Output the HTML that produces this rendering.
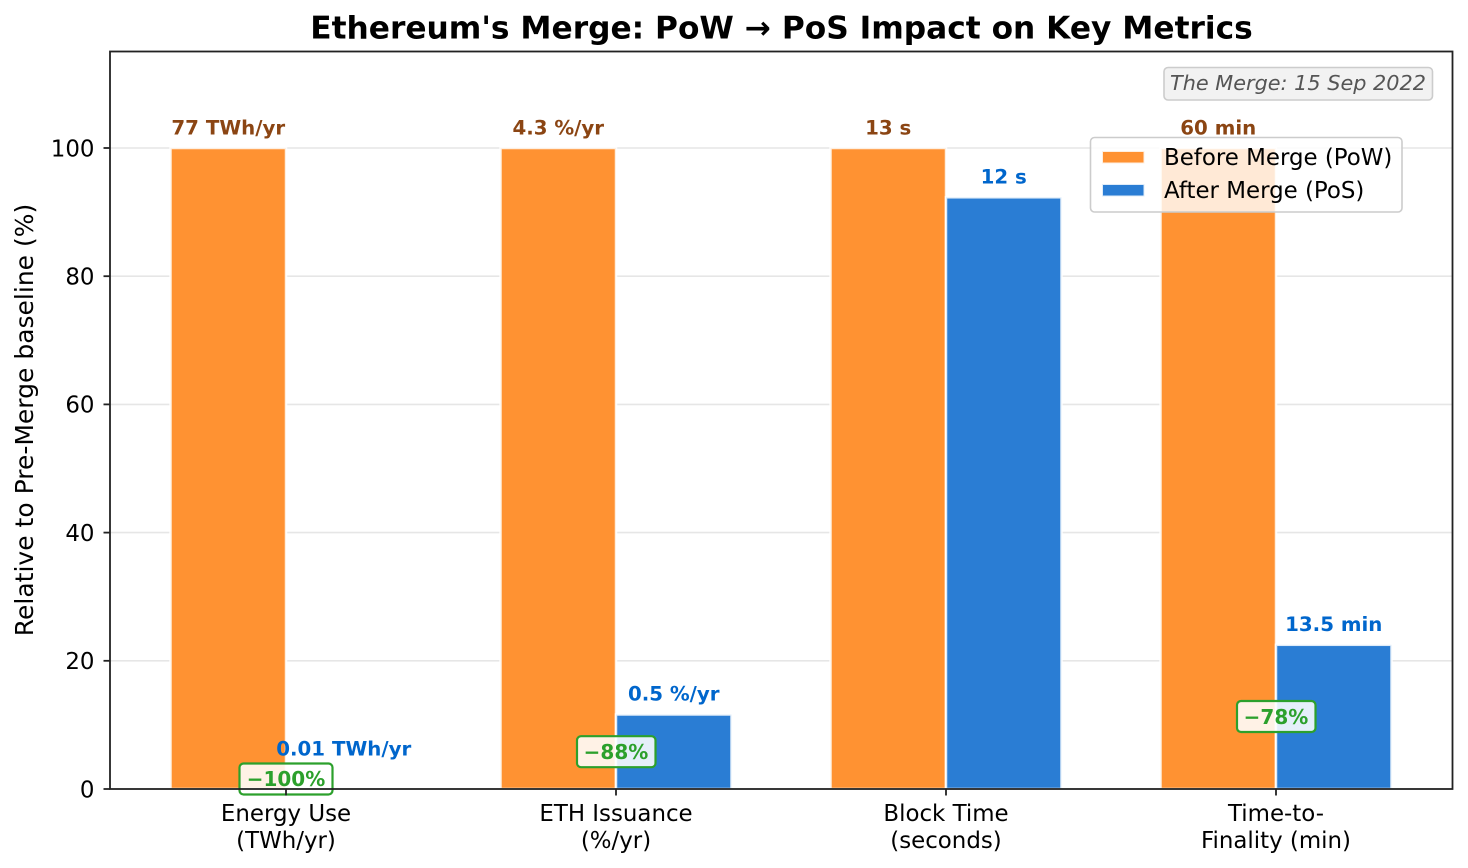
<!DOCTYPE html>
<html><head><meta charset="utf-8"><style>
html,body{margin:0;padding:0;background:#fff;}
svg{display:block;}
text{font-family:"DejaVu Sans","Liberation Sans",sans-serif;}
</style></head><body>
<svg width="1468" height="868" viewBox="0 0 1468 868" xmlns="http://www.w3.org/2000/svg">
<rect x="0" y="0" width="1468" height="868" fill="#fff"/>
<!-- grid -->
<g stroke="#e6e6e6" stroke-width="1.6">
<line x1="110" y1="660.8" x2="1452" y2="660.8"/>
<line x1="110" y1="532.6" x2="1452" y2="532.6"/>
<line x1="110" y1="404.4" x2="1452" y2="404.4"/>
<line x1="110" y1="276.2" x2="1452" y2="276.2"/>
<line x1="110" y1="148" x2="1452" y2="148"/>
</g>
<!-- bars -->
<g stroke="#fff" stroke-opacity="0.85" stroke-width="2.5">
<rect x="170.5" y="148" width="115.5" height="641" fill="#ff9232"/>
<rect x="500.5" y="148" width="115.5" height="641" fill="#ff9232"/>
<rect x="830.5" y="148" width="115.5" height="641" fill="#ff9232"/>
<rect x="1160.5" y="148" width="115.5" height="641" fill="#ff9232"/>
<rect x="616" y="714.5" width="115.5" height="74.5" fill="#2a7dd4"/>
<rect x="946" y="197.3" width="115.5" height="591.7" fill="#2a7dd4"/>
<rect x="1276" y="644.8" width="115.5" height="144.2" fill="#2a7dd4"/>
</g>
<!-- value labels -->
<g font-size="19.8" font-weight="bold" text-anchor="middle">
<text x="228.25" y="134.5" fill="#8b4513">77 TWh/yr</text>
<text x="558.25" y="134.5" fill="#8b4513">4.3 %/yr</text>
<text x="888.25" y="134.5" fill="#8b4513">13 s</text>
<text x="1218.25" y="134.5" fill="#8b4513">60 min</text>
<text x="343.75" y="755.5" fill="#0066cc">0.01 TWh/yr</text>
<text x="673.75" y="700.6" fill="#0066cc">0.5 %/yr</text>
<text x="1003.75" y="183.3" fill="#0066cc">12 s</text>
<text x="1333.75" y="631" fill="#0066cc">13.5 min</text>
</g>
<!-- green reduction boxes -->
<g stroke="#2ca02c" stroke-width="2.2" fill="#fff" fill-opacity="0.88">
<rect x="239.5" y="763.5" width="93" height="31" rx="4"/>
<rect x="577" y="736.2" width="78.5" height="31" rx="4"/>
<rect x="1237" y="701" width="78.5" height="31" rx="4"/>
</g>
<g font-size="20" font-weight="bold" text-anchor="middle" fill="#2ca02c">
<text x="286" y="786">−100%</text>
<text x="616" y="759">−88%</text>
<text x="1276" y="724">−78%</text>
</g>
<!-- annotation -->
<rect x="1164" y="67.5" width="268.5" height="32.5" rx="4" fill="#f2f2f2" stroke="#cccccc" stroke-width="1.6"/>
<text x="1298" y="90" font-size="20.8" font-style="italic" fill="#555555" text-anchor="middle">The Merge: 15 Sep 2022</text>
<!-- legend -->
<rect x="1090.5" y="137.5" width="311.5" height="74.5" rx="4" fill="#fff" fill-opacity="0.8" stroke="#cccccc" stroke-width="1.6"/>
<rect x="1102" y="151" width="42.5" height="12.5" fill="#ff9232" stroke="#fff" stroke-opacity="0.85" stroke-width="2"/>
<rect x="1102" y="184" width="42.5" height="12.5" fill="#2a7dd4" stroke="#fff" stroke-opacity="0.85" stroke-width="2"/>
<text x="1164" y="165" font-size="22.9" fill="#000">Before Merge (PoW)</text>
<text x="1164" y="198" font-size="22.9" fill="#000">After Merge (PoS)</text>
<!-- spines -->
<rect x="110" y="51.5" width="1342.5" height="737.5" fill="none" stroke="#222" stroke-width="1.8"/>
<!-- ticks -->
<g stroke="#222" stroke-width="1.8">
<line x1="103.5" y1="789" x2="110" y2="789"/>
<line x1="103.5" y1="660.8" x2="110" y2="660.8"/>
<line x1="103.5" y1="532.6" x2="110" y2="532.6"/>
<line x1="103.5" y1="404.4" x2="110" y2="404.4"/>
<line x1="103.5" y1="276.2" x2="110" y2="276.2"/>
<line x1="103.5" y1="148" x2="110" y2="148"/>
<line x1="286" y1="789" x2="286" y2="795.5"/>
<line x1="616" y1="789" x2="616" y2="795.5"/>
<line x1="946" y1="789" x2="946" y2="795.5"/>
<line x1="1276" y1="789" x2="1276" y2="795.5"/>
</g>
<g font-size="22.9" text-anchor="end" fill="#000">
<text x="94.5" y="797.3">0</text>
<text x="94.5" y="669.1">20</text>
<text x="94.5" y="540.9">40</text>
<text x="94.5" y="412.7">60</text>
<text x="94.5" y="284.5">80</text>
<text x="94.5" y="156.3">100</text>
</g>
<g font-size="22.9" text-anchor="middle" fill="#000">
<text x="286" y="821">Energy Use</text>
<text x="286" y="848">(TWh/yr)</text>
<text x="616" y="821">ETH Issuance</text>
<text x="616" y="848">(%/yr)</text>
<text x="946" y="821">Block Time</text>
<text x="946" y="848">(seconds)</text>
<text x="1276" y="821">Time-to-</text>
<text x="1276" y="848">Finality (min)</text>
</g>
<text transform="translate(33,420) rotate(-90)" font-size="25" text-anchor="middle" fill="#000">Relative to Pre-Merge baseline (%)</text>
<text x="781.5" y="38.5" font-size="31.25" font-weight="bold" text-anchor="middle" fill="#000">Ethereum's Merge: PoW → PoS Impact on Key Metrics</text>
</svg>
</body></html>
